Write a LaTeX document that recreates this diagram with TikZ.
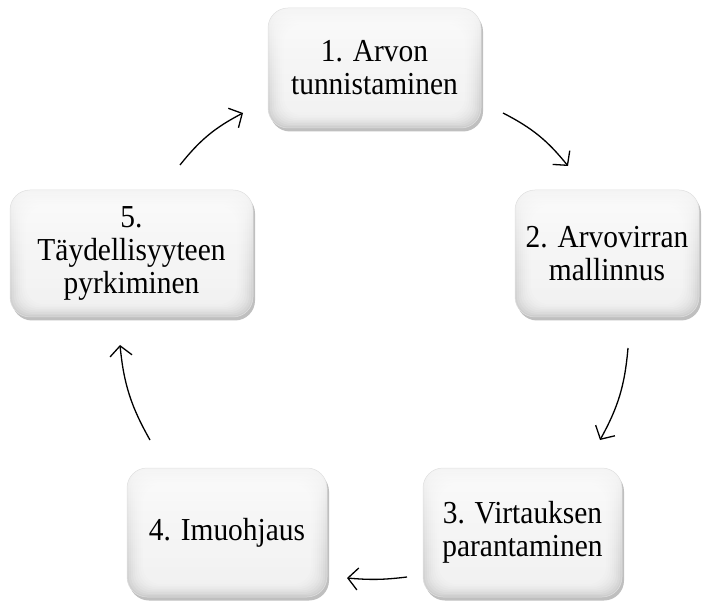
\documentclass[tikz,border=0pt]{standalone}
\usepackage{fontspec}
\setmainfont[FakeStretch=0.92]{Liberation Serif}
\usetikzlibrary{arrows.meta,shadows}
\begin{document}
\begin{tikzpicture}[x=1pt,y=1pt,
  stage/.style={rounded corners=20pt, align=center, inner sep=0pt,
    top color=gray!8, bottom color=gray!40, draw=gray!25, line width=0.5pt,
    drop shadow={shadow xshift=2pt, shadow yshift=-3.5pt, opacity=0.25, fill=black},
    % soft bevel: stacked translucent white layers brighten the face towards its centre
    path picture={
      \foreach \d in {2,4,...,16}{
        \fill[white, opacity=0.16, rounded corners=18pt]
          ([shift={(\d pt,-\d pt)}]path picture bounding box.north west) rectangle
          ([shift={(-\d pt,0.8*\d pt)}]path picture bounding box.south east);
      }
    },
    font=\fontsize{32}{33}\selectfont},
  flow/.style={line width=1.3pt, -{Straight Barb[length=10pt,width=22pt,line width=1.3pt]}}]
\useasboundingbox (0,0) rectangle (704,603);
% the five stages of the cycle
\node[stage, minimum width=213pt, minimum height=120pt] (s1) at (374.5,535) {1. Arvon\\tunnistaminen};
\node[stage, minimum width=184pt, minimum height=127pt] (s2) at (607,349.5) {2. Arvovirran\\mallinnus};
\node[stage, minimum width=199pt, minimum height=129pt] (s3) at (522.5,70.5) {3. Virtauksen\\parantaminen};
\node[stage, minimum width=200pt, minimum height=129pt] (s4) at (227,70.5) {4. Imuohjaus};
\node[stage, minimum width=243pt, minimum height=127pt] (s5) at (131.5,349.5) {5.\\Täydellisyyteen\\pyrkiminen};
% free ends of the connecting arrows
\coordinate (a12s) at (503,490); \coordinate (a12e) at (568,437);
\coordinate (a23s) at (628,255); \coordinate (a23e) at (600,163);
\coordinate (a34s) at (407,26);  \coordinate (a34e) at (347,25);
\coordinate (a45s) at (150,163); \coordinate (a45e) at (120,258);
\coordinate (a51s) at (180,438); \coordinate (a51e) at (243,490);
\draw[flow] (a12s) to[bend left=12] (a12e);
\draw[flow] (a23s) to[bend left=12] (a23e);
\draw[flow] (a34s) to[bend left=6] (a34e);
\draw[flow] (a45s) to[bend left=12] (a45e);
\draw[flow] (a51s) to[bend left=12] (a51e);
\end{tikzpicture}
\end{document}
